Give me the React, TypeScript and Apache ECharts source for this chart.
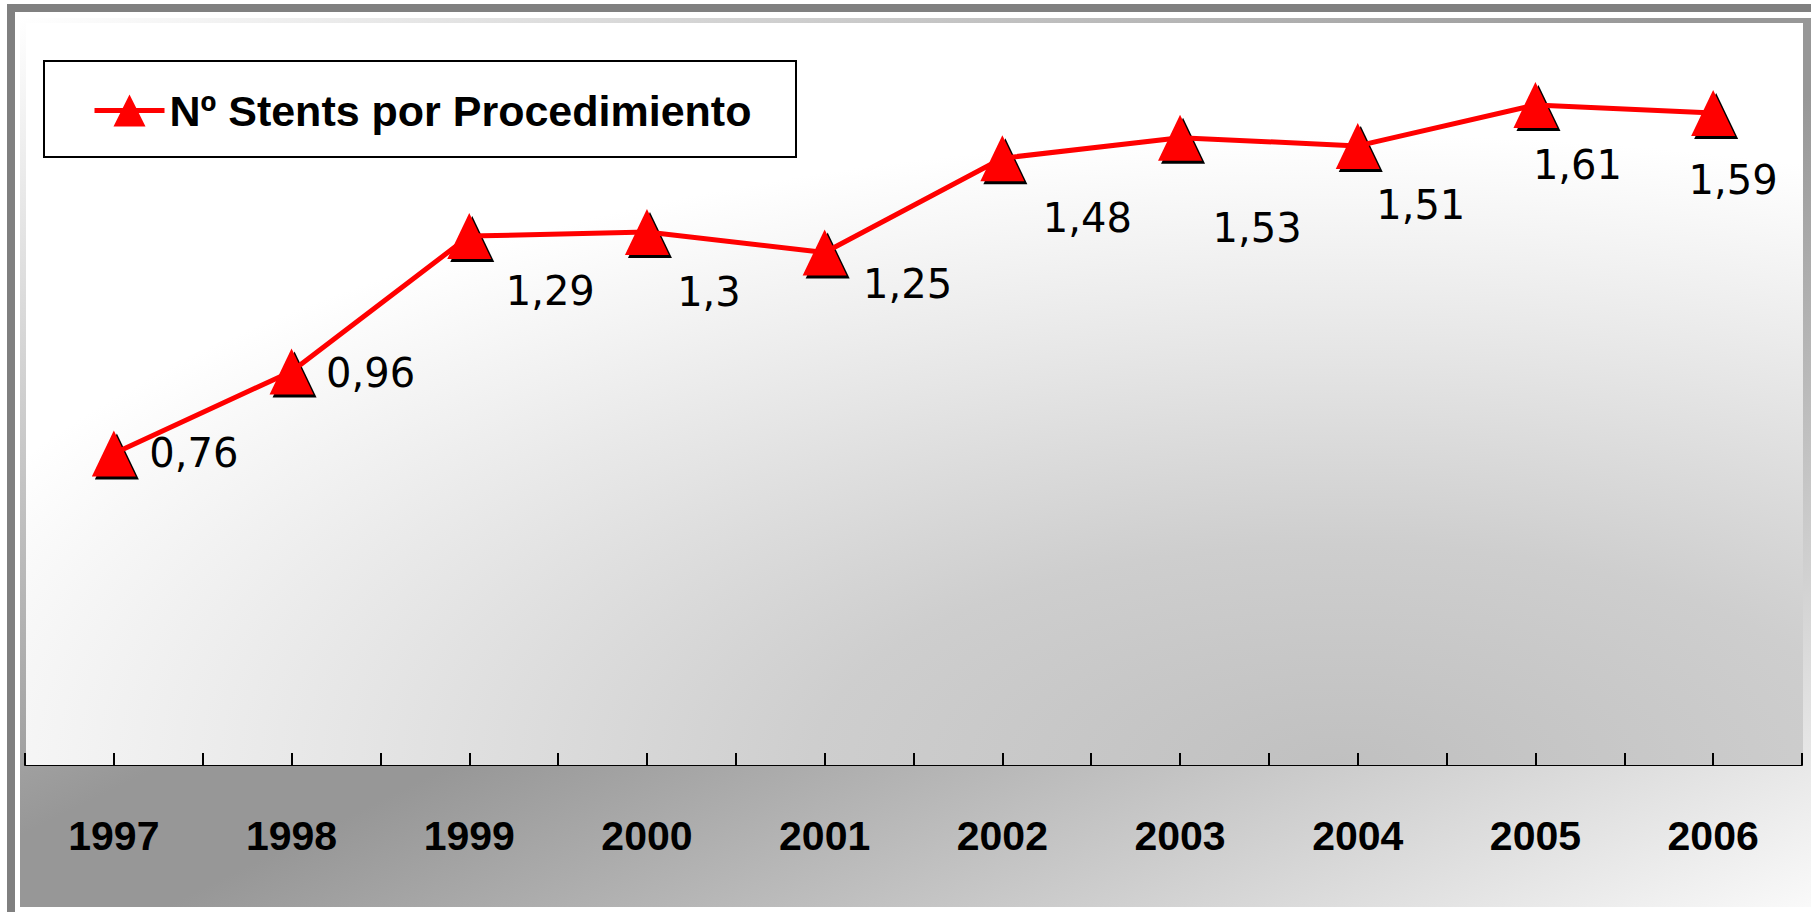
import React, { useEffect, useRef } from 'react';
import * as echarts from 'echarts';

const years = ['1997', '1998', '1999', '2000', '2001', '2002', '2003', '2004', '2005', '2006'];
const stentsPerProcedure = [0.76, 0.96, 1.29, 1.3, 1.25, 1.48, 1.53, 1.51, 1.61, 1.59];
const seriesName = 'Nº Stents por Procedimiento';
const yMin = 0;
const yMax = 1.8;
// label placement relative to each marker (style only)
const labelOffsets = [
  [80, 0], [79, 2], [81, 55], [62, 60], [83, 31],
  [85, 60], [77, 90], [63, 59], [42, 60], [20, 67],
];

const W = 1811;
const H = 912;

export default function App() {
  const ref = useRef<HTMLDivElement>(null);

  useEffect(() => {
    if (!ref.current) return;
    const chart = echarts.init(ref.current, undefined, { renderer: 'svg', width: W, height: H });

    const fmt = (v: number) => String(v).replace('.', ',');

    const mainData = stentsPerProcedure.map((v, i) => ({
      value: v,
      label: { offset: labelOffsets[i] },
    }));

    const option: any = {
      animation: false,
      backgroundColor: '#ffffff',
      graphic: [
        {
          type: 'rect',
          z: 0,
          z2: 0,
          silent: true,
          shape: { x: 11, y: 8, width: 1900, height: 1000 },
          style: { fill: 'none', stroke: '#808080', lineWidth: 8 },
        },
        {
          type: 'rect',
          z: 0,
          z2: 1,
          silent: true,
          shape: { x: 20, y: 18, width: 1800, height: 889 },
          style: {
            fill: new echarts.graphic.LinearGradient(0, 0, 1, 1, [
              { offset: 0, color: '#ffffff' },
              { offset: 0.46, color: '#979797' },
              { offset: 0.54, color: '#979797' },
              { offset: 1, color: '#fafafa' },
            ]),
          },
        },
        {
          type: 'rect',
          z: 0,
          z2: 2,
          silent: true,
          shape: { x: 26, y: 23, width: 1777, height: 742 },
          style: {
            fill: new echarts.graphic.RadialGradient(0.74, 1.0, 0.85, [
              { offset: 0, color: '#c0c0c0' },
              { offset: 0.35, color: '#cecece' },
              { offset: 0.65, color: '#e5e5e5' },
              { offset: 1, color: '#ffffff' },
            ]),
          },
        },
        {
          type: 'rect',
          z: 3,
          silent: true,
          shape: { x: 44, y: 61, width: 752, height: 96 },
          style: { fill: '#ffffff', stroke: '#000000', lineWidth: 2 },
        },
      ],
      legend: {
        data: [seriesName],
        left: 92,
        top: 89,
        padding: 0,
        itemWidth: 70,
        itemHeight: 40,
        itemStyle: { color: '#ff0000' },
        lineStyle: { color: '#ff0000', width: 5 },
        textStyle: {
          fontFamily: "'Liberation Sans', Arial, sans-serif",
          fontWeight: 'bold',
          fontSize: 43,
          lineHeight: 40,
          color: '#000000',
        },
      },
      grid: { left: 25, top: 27, width: 1777, height: 738, containLabel: false },
      xAxis: [
        {
          type: 'category',
          data: years,
          boundaryGap: true,
          position: 'bottom',
          axisLine: { show: true, lineStyle: { color: '#000000', width: 2 } },
          axisTick: { show: false },
          axisLabel: {
            color: '#000000',
            fontFamily: "'Liberation Sans', Arial, sans-serif",
            fontWeight: 'bold',
            fontSize: 41,
            lineHeight: 41,
            margin: 50,
          },
          splitLine: { show: false },
        },
        {
          type: 'value',
          min: 0,
          max: years.length * 2,
          interval: 1,
          position: 'bottom',
          axisLine: { show: false },
          axisTick: { show: true, inside: true, length: 12, lineStyle: { color: '#000000', width: 2 } },
          axisLabel: { show: false },
          splitLine: { show: false },
        },
      ],
      yAxis: {
        type: 'value',
        min: yMin,
        max: yMax,
        show: false,
        splitLine: { show: false },
      },
      series: [
        {
          name: '_shadow',
          type: 'line',
          xAxisIndex: 0,
          data: stentsPerProcedure,
          symbol: 'triangle',
          symbolSize: [44, 46],
          symbolOffset: [3, 3],
          showAllSymbol: true,
          lineStyle: { width: 0, opacity: 0 },
          itemStyle: { color: '#000000' },
          label: { show: false },
          silent: true,
          z: 2,
        },
        {
          name: seriesName,
          type: 'line',
          xAxisIndex: 0,
          data: mainData,
          symbol: 'triangle',
          symbolSize: [44, 46],
          showAllSymbol: true,
          lineStyle: { color: '#ff0000', width: 5 },
          itemStyle: { color: '#ff0000' },
          label: {
            show: true,
            position: 'inside',
            align: 'center',
            verticalAlign: 'middle',
            color: '#000000',
            textBorderWidth: 0,
            fontFamily: "'DejaVu Sans', sans-serif",
            fontSize: 40,
            formatter: (p: any) => fmt(p.value),
          },
          z: 3,
        },
      ],
    };

    chart.setOption(option);
    return () => chart.dispose();
  }, []);

  return (
    <div
      ref={ref}
      style={{ position: 'fixed', left: 0, top: 0, width: W, height: H, background: '#ffffff' }}
    />
  );
}
